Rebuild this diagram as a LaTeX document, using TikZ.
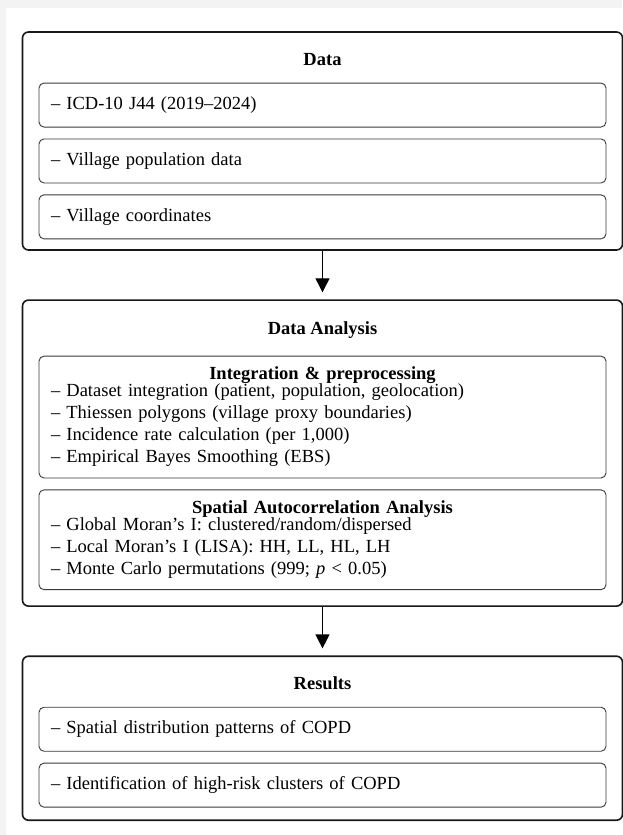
\documentclass[tikz,border=0pt]{standalone}
\usepackage{fontspec}
\setmainfont{Liberation Serif}
\usepackage{xcolor}
\usetikzlibrary{positioning,arrows.meta}

\definecolor{pagegray}{HTML}{F3F3F3}
\definecolor{boxline}{HTML}{3A3A3A}

\begin{document}
\begin{tikzpicture}[
	x=1pt, y=1pt,
	node distance=48.5pt,
	font=\fontsize{18.5}{22}\selectfont,
	panel/.style={
		rectangle,
		draw=black!90,
		line width=1.6pt,
		rounded corners=6pt,
		minimum width=600pt
	},
	heading/.style={
		font=\fontsize{18.5}{22}\selectfont\bfseries,
		inner sep=0pt,
		text height=12pt,
		text depth=0pt
	},
	item/.style={
		rectangle,
		draw=boxline,
		fill=white,
		line width=0.9pt,
		rounded corners=5pt,
		minimum width=567pt,
		minimum height=44pt,
		text width=543pt,
		inner xsep=12pt,
		align=left
	},
	group/.style={
		item,
		inner ysep=11pt
	},
	flow/.style={
		line width=1.2pt,
		-{Triangle[width=14pt,length=14pt]},
		shorten >=7pt
	}
	]
	\fill[pagegray] (0,0) rectangle (622,-835);
	\fill[white] (6,-8) rectangle (622,-835);
	\useasboundingbox (0,0) rectangle (622,-835);
	
	% panels
	\node (data) [panel, minimum height=218pt] at (322.5,-141) {};
	\node (analysis) [panel, minimum height=306pt, below=of data] {};
	\node (results) [panel, minimum height=164pt, below=of analysis] {};
	
	% data
	\node (data_title) [heading, below=22pt of data.north] {Data};
	\node (icd) [item, below=17pt of data_title] {-- ICD-10 J44 (2019--2024)};
	\node (population) [item, below=11pt of icd] {-- Village population data};
	\node (coordinates) [item, below=11pt of population] {-- Village coordinates};
	
	% data analysis
	\node (analysis_title) [heading, below=23pt of analysis.north] {Data Analysis};
	\node (integration) [group, below=21pt of analysis_title] {\hfill\textbf{Integration \& preprocessing}\hfill\null\\[-5pt]
		-- Dataset integration (patient, population, geolocation)\\
		-- Thiessen polygons (village proxy boundaries)\\
		-- Incidence rate calculation (per 1,000)\\
		-- Empirical Bayes Smoothing (EBS)};
	\node (autocorrelation) [group, below=11pt of integration] {\hfill\textbf{Spatial Autocorrelation Analysis}\hfill\null\\[-5pt]
		-- Global Moran's I: clustered/random/dispersed\\
		-- Local Moran's I (LISA): HH, LL, HL, LH\\
		-- Monte Carlo permutations (999; \textit{p} < 0.05)};
	
	% results
	\node (results_title) [heading, below=22pt of results.north] {Results};
	\node (patterns) [item, below=17pt of results_title] {-- Spatial distribution patterns of COPD};
	\node (clusters) [item, below=11pt of patterns] {-- Identification of high-risk clusters of COPD};
	
	\draw[flow] (data) -- (analysis);
	\draw[flow] (analysis) -- (results);
	
\end{tikzpicture}
\end{document}
